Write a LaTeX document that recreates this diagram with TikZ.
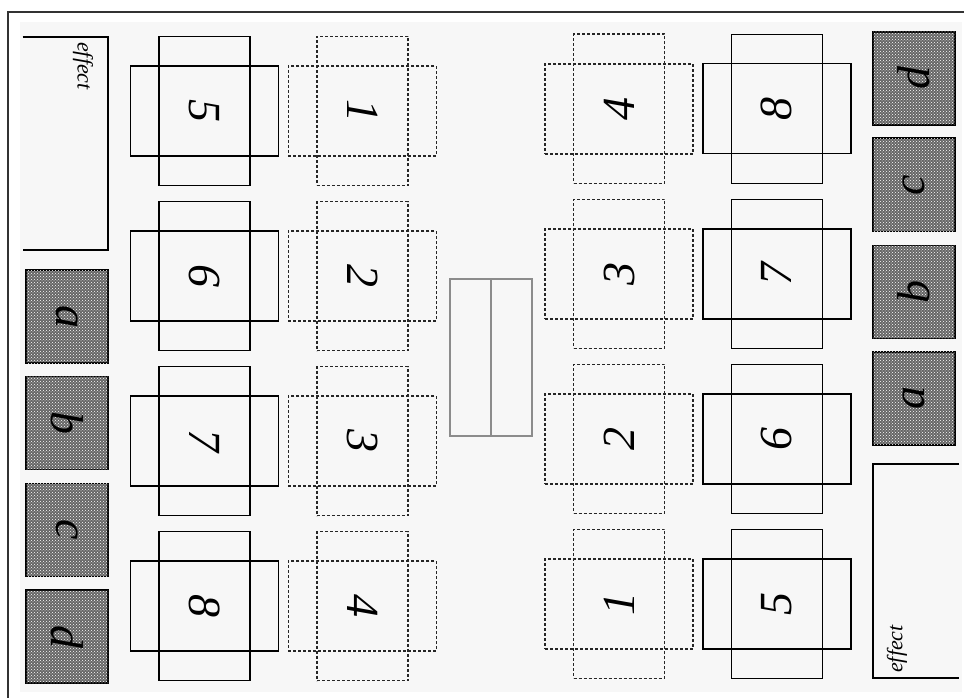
\documentclass[tikz,border=0pt]{standalone}
\usepackage{fontspec}
\setmainfont{Liberation Serif}
\usetikzlibrary{patterns}
\begin{document}
\begin{tikzpicture}[x=1pt,y=-1pt,
  hbar/.style={rectangle, inner sep=0pt, minimum width=148pt, minimum height=90pt},
  vbar/.style={rectangle, inner sep=0pt, minimum width=91pt, minimum height=149pt},
  solidline/.style={draw=black, line width=1.4pt},
  dashline/.style={draw=black!85, line width=1.6pt, dash pattern=on 3pt off 2pt},
  numlabel/.style={font=\fontsize{46}{48}\selectfont\itshape, inner sep=0pt},
  efflabel/.style={font=\fontsize{22}{24}\selectfont\itshape, inner sep=0pt},
  letterbox/.style={rectangle, draw=black, line width=1.6pt, inner sep=0pt,
    minimum width=82pt, minimum height=93pt, fill=black!60,
    postaction={pattern=crosshatch dots, pattern color=white}},
  effbox/.style={draw=black, line width=2.2pt},
  centerbox/.style={rectangle, draw=black!45, line width=1.5pt, inner sep=0pt,
    minimum width=41pt, minimum height=157pt}]
\useasboundingbox (0,0) rectangle (964,698);
\fill[black!3] (20,22) rectangle (962,692);
\draw[black!80, line width=1.2pt] (8,698) -- (8,12) -- (964,12);

% effect boxes
\draw[effbox] (22.7,37) -| (108,250) -- (22.7,250);
\node[efflabel, rotate=-90] (effL) at (83,66) {effect};
\draw[effbox] (959,464) -| (873,678) -- (959,678);
\node[efflabel, rotate=90] (effR) at (897,649) {effect};

% letter boxes
\foreach \l/\y in {a/316.5,b/423,c/530,d/636.5} {
  \node[letterbox] (lb\l) at (67,\y) {};
  \node[numlabel, rotate=-90] (lt\l) at (lb\l) {\l};
}
\foreach \l/\y in {a/398.3,b/291.8,c/184.8,d/78.3} {
  \node[letterbox] (rb\l) at (914,\y) {};
  \node[numlabel, rotate=90] (rt\l) at (rb\l) {\l};
}

% solid crosses
\foreach \n/\y in {5/111,6/276,7/441,8/606} {
  \node[hbar, solidline] (ls\n h) at (204.5,\y) {};
  \node[vbar, solidline] (ls\n v) at (204.5,\y) {};
  \node[numlabel, rotate=-90] (ls\n t) at (ls\n h) {\n};
}
\foreach \n/\y in {5/603.8,6/438.8,7/273.8,8/108.8} {
  \node[hbar, solidline] (rs\n h) at (776.9,\y) {};
  \node[vbar, solidline] (rs\n v) at (776.9,\y) {};
  \node[numlabel, rotate=90] (rs\n t) at (rs\n h) {\n};
}

% dashed crosses
\foreach \n/\y in {1/111,2/276,3/441,4/606} {
  \node[hbar, dashline] (ld\n h) at (362.3,\y) {};
  \node[vbar, dashline] (ld\n v) at (362.3,\y) {};
  \node[numlabel, rotate=-90] (ld\n t) at (ld\n h) {\n};
}
\foreach \n/\y in {1/603.8,2/438.8,3/273.8,4/108.8} {
  \node[hbar, dashline] (rd\n h) at (619.1,\y) {};
  \node[vbar, dashline] (rd\n v) at (619.1,\y) {};
  \node[numlabel, rotate=90] (rd\n t) at (rd\n h) {\n};
}

% centre box
\node[centerbox] (cl) at (470.3,357.4) {};
\node[centerbox] (cr) at (511.3,357.4) {};
\end{tikzpicture}
\end{document}
